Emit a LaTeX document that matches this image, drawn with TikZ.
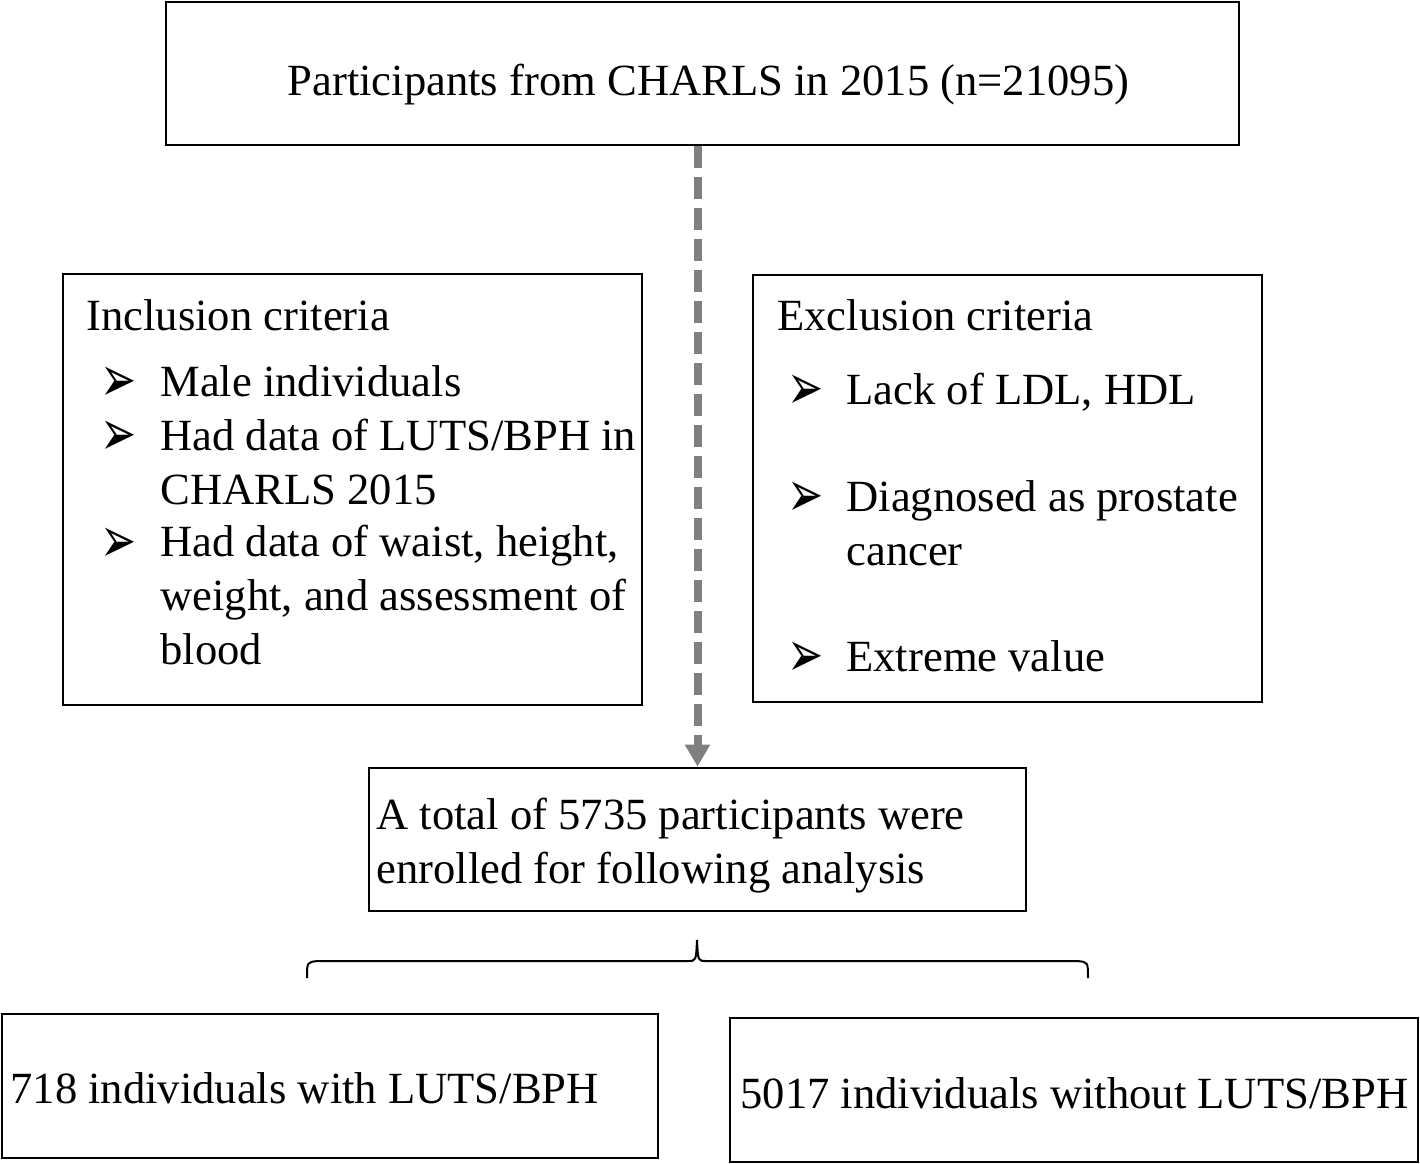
\documentclass[tikz,border=0pt]{standalone}
\usepackage{fontspec}
\setmainfont{Liberation Serif}
\newfontfamily\tickfont{DejaVu Sans}
\usetikzlibrary{arrows.meta}
\definecolor{flowgray}{RGB}{128,128,128}
\newcommand{\tickmark}{\scalebox{1.27}[1.9]{➢}}
\tikzset{
	% ---- default
	every node/.style={font=\fontsize{22.3pt}{26.8pt}\selectfont},
	% ---- custom
	box/.style={draw, line width=1.4pt, rectangle, inner sep=0pt},
	boxtext/.style={anchor=base west, inner sep=0pt, align=left},
	tick/.style={anchor=base west, inner sep=0pt, text height=14pt, text depth=0pt, font=\tickfont\fontsize{17pt}{20pt}\selectfont},
	flow/.style={line width=4pt, flowgray, dash pattern=on 11pt off 4.5pt, -{Triangle[width=12pt,length=11pt]}},
	split/.style={line width=1pt},
}

\begin{document}
\begin{tikzpicture}[x=0.5pt, y=-0.5pt]

	\useasboundingbox (0,0) rectangle (1420,1163);

% boxes %{{{2

	\node[box, minimum width=536.5pt, minimum height=71.5pt] (start) at (702.5,73.5) {};
	\node[box, minimum width=289.5pt, minimum height=215.5pt] (incl) at (352.5,489.5) {};
	\node[box, minimum width=254.5pt, minimum height=213.5pt] (excl) at (1007.5,488.5) {};
	\node[box, minimum width=328.5pt, minimum height=71.5pt] (total) at (697.5,839.5) {};
	\node[box, minimum width=328pt, minimum height=72pt] (with) at (330,1086) {};
	\node[box, minimum width=344pt, minimum height=72pt] (without) at (1074,1090) {};

% box texts %{{{2

	\node[boxtext, anchor=base] (starttext) at (708.5,95) {Participants from CHARLS in 2015 (n=21095)};

	\node[boxtext] (incltitle) at (86,330) {Inclusion criteria};
	\node[tick] (incltickA) at (100,401) {\tickmark};
	\node[tick] (incltickB) at (100,455) {\tickmark};
	\node[tick] (incltickC) at (100,562) {\tickmark};
	\node[boxtext] (inclA) at (160,396) {Male individuals};
	\node[boxtext] (inclB) at (160,504) {Had data of LUTS/BPH in\\CHARLS 2015};
	\node[boxtext] (inclC) at (160,664) {Had data of waist, height,\\weight, and assessment of\\blood};

	\node[boxtext] (excltitle) at (777,330) {Exclusion criteria};
	\node[tick] (excltickA) at (787,409) {\tickmark};
	\node[tick] (excltickB) at (787,516) {\tickmark};
	\node[tick] (excltickC) at (787,676) {\tickmark};
	\node[boxtext] (exclA) at (846,404) {Lack of LDL, HDL};
	\node[boxtext] (exclB) at (846,565) {Diagnosed as prostate\\cancer};
	\node[boxtext] (exclC) at (846,671) {Extreme value};

	\node[boxtext] (totaltext) at (376,883) {A total of 5735 participants were\\enrolled for following analysis};
	\node[boxtext] (withtext) at (10,1103) {718 individuals with LUTS/BPH};
	\node[boxtext] (withouttext) at (740,1108) {5017 individuals without LUTS/BPH};

% connectors %{{{2

	\draw[flow] (start.south -| total.north) -- (total.north);

	\coordinate (braceL) at (307,978);
	\coordinate (braceTip) at (697,940);
	\coordinate (braceR) at (1088,978);
	\draw[split] (braceL) .. controls (307,962) .. (318,961) -- (688,961)
		.. controls (696,961) .. (braceTip) .. controls (698,961) .. (706,961)
		-- (1077,961) .. controls (1088,962) .. (braceR);

% closing %{{{2

\end{tikzpicture}
\end{document}
